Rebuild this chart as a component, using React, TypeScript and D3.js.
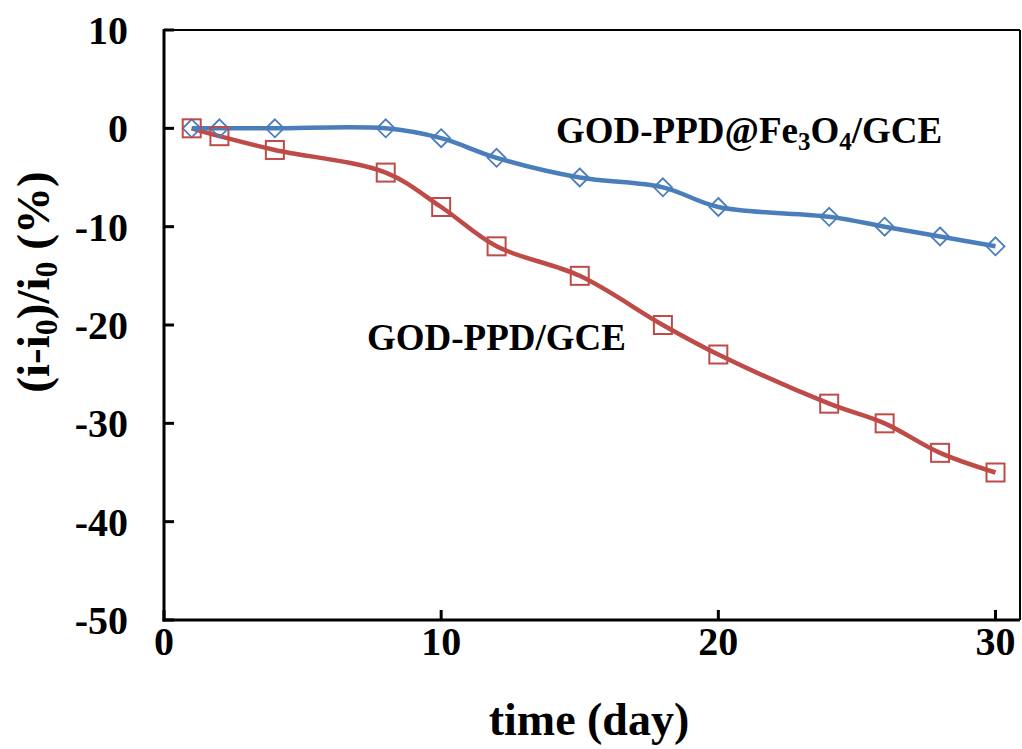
import React from "react";
import * as d3 from "d3";

const days = [1, 2, 4, 8, 10, 12, 15, 18, 20, 24, 26, 28, 30];
const fe3o4Values = [0, 0, 0, 0, -1, -3, -5, -6, -8, -9, -10, -11, -12];
const ppdValues = [0, -0.8, -2.2, -4.5, -8, -12, -15, -20, -23, -28, -30, -33, -35];
const xTicks = [0, 10, 20, 30];
const yTicks = [10, 0, -10, -20, -30, -40, -50];

const W = 1022;
const H = 749;
const left = 164;
const right = 1020;
const top = 30;
const bottom = 620;

const FONT = "'Liberation Serif', 'Times New Roman', serif";
const BLUE = "#4a7ebb";
const RED = "#be4b48";

export default function App() {
  const x = d3.scaleLinear().domain([0, 30]).range([left, 995.5]);
  const y = d3.scaleLinear().domain([-50, 10]).range([bottom, top]);

  const line = d3
    .line<[number, number]>()
    .x((d) => x(d[0]))
    .y((d) => y(d[1]))
    .curve(d3.curveCatmullRom.alpha(0.5));

  const blue = days.map((d, i) => [d, fe3o4Values[i]] as [number, number]);
  const red = days.map((d, i) => [d, ppdValues[i]] as [number, number]);

  return (
    <svg
      width={W}
      height={H}
      style={{ position: "absolute", left: 0, top: 0, background: "#fff" }}
      fontFamily={FONT}
      fontWeight="bold"
    >
      <rect x={0} y={0} width={W} height={H} fill="#fff" />
      {/* frame */}
      <line x1={left} x2={right} y1={top} y2={top} stroke="#000" strokeWidth={2} />
      <line x1={right} x2={right} y1={top} y2={bottom} stroke="#000" strokeWidth={2} />
      <line x1={left} x2={left} y1={top - 1} y2={bottom + 1.5} stroke="#000" strokeWidth={3} />
      <line x1={left - 1.5} x2={right} y1={bottom} y2={bottom} stroke="#000" strokeWidth={3} />

      {yTicks.map((t) => (
        <g key={"y" + t}>
          <line x1={left} x2={left + 10} y1={y(t)} y2={y(t)} stroke="#000" strokeWidth={3} />
          <text x={128} y={y(t)} dy="0.35em" textAnchor="end" fontSize={40}>
            {t}
          </text>
        </g>
      ))}
      {xTicks.map((t) => (
        <g key={"x" + t}>
          <line x1={x(t)} x2={x(t)} y1={bottom} y2={bottom - 10} stroke="#000" strokeWidth={3} />
          <text x={x(t)} y={655} textAnchor="middle" fontSize={40}>
            {t}
          </text>
        </g>
      ))}

      <text x={589} y={735} textAnchor="middle" fontSize={46}>
        time (day)
      </text>
      <text
        transform={`translate(49, 282) rotate(-90)`}
        textAnchor="middle"
        fontSize={47}
      >
        (i-i<tspan fontSize={32} dy={8}>0</tspan>
        <tspan dy={-8}>)/i</tspan>
        <tspan fontSize={32} dy={8}>0</tspan>
        <tspan dy={-8}> (%)</tspan>
      </text>

      <path d={line(red) || ""} fill="none" stroke={RED} strokeWidth={4.5} />
      <path d={line(blue) || ""} fill="none" stroke={BLUE} strokeWidth={4.5} />

      {blue.map((d, i) => (
        <path
          key={"b" + i}
          d={`M${x(d[0])},${y(d[1]) - 9} l9,9 l-9,9 l-9,-9 Z`}
          fill="none"
          stroke={BLUE}
          strokeWidth={1.8}
        />
      ))}
      {red.map((d, i) => (
        <rect
          key={"r" + i}
          x={x(d[0]) - 9}
          y={y(d[1]) - 9}
          width={18}
          height={18}
          fill="none"
          stroke={RED}
          strokeWidth={2}
        />
      ))}

      <text x={556} y={143} fontSize={37}>
        GOD-PPD@Fe<tspan fontSize={25} dy={7}>3</tspan>
        <tspan dy={-7}>O</tspan>
        <tspan fontSize={25} dy={7}>4</tspan>
        <tspan dy={-7}>/GCE</tspan>
      </text>
      <text x={367} y={350} fontSize={37}>
        GOD-PPD/GCE
      </text>
    </svg>
  );
}
